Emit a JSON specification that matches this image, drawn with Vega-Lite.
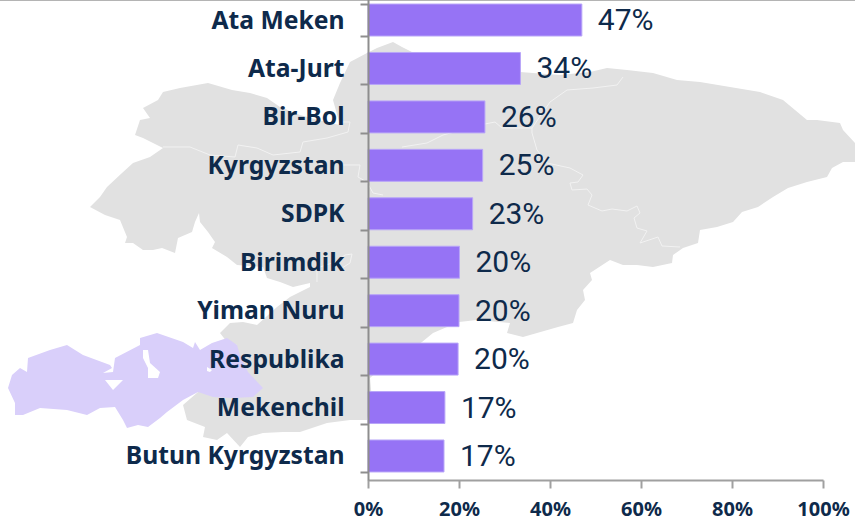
{"$schema":"https://vega.github.io/schema/vega-lite/v6.json","width":455,"height":480,"autosize":{"type":"none"},"padding":{"left":368,"top":0,"right":32,"bottom":40},"background":"#ffffff","config":{"view":{"stroke":null}},"layer":[{"data":{"values":[{"type":"Feature","properties":{"kind":"rest"},"geometry":{"type":"Polygon","coordinates":[[[69.90,42.93],[70.00,43.03],[70.07,43.13],[70.22,43.27],[70.33,43.37],[70.50,43.43],[70.63,43.52],[70.43,43.62],[70.35,43.65],[70.40,43.80],[70.50,43.82],[70.43,43.92],[70.58,44.00],[70.63,44.08],[70.80,44.12],[71.08,44.17],[71.32,44.10],[71.50,44.07],[71.67,44.02],[71.80,43.93],[72.00,43.85],[72.30,43.77],[72.40,43.75],[72.33,44.00],[72.40,44.17],[72.50,44.38],[72.67,44.47],[72.77,44.52],[72.93,44.58],[73.02,44.53],[73.12,44.48],[73.50,44.38],[74.20,44.28],[74.33,44.27],[74.60,44.25],[74.90,44.28],[75.07,44.32],[75.27,44.30],[75.53,44.27],[75.77,44.20],[76.00,44.18],[76.30,44.13],[76.60,44.08],[76.83,44.00],[77.07,43.80],[77.17,43.80],[77.40,43.77],[77.43,43.70],[77.55,43.57],[77.62,43.55],[77.62,43.40],[77.55,43.38],[77.43,43.38],[77.32,43.32],[77.27,43.23],[77.07,43.18],[76.88,43.12],[76.73,43.03],[76.58,42.93],[76.42,42.88],[76.33,42.78],[76.17,42.73],[76.00,42.70],[75.98,42.57],[75.83,42.52],[75.73,42.45],[75.72,42.37],[75.53,42.33],[75.37,42.35],[75.23,42.35],[75.10,42.40],[74.90,42.27],[74.92,42.20],[74.83,42.10],[74.85,42.00],[74.77,41.90],[74.73,41.77],[74.58,41.73],[74.23,41.63],[74.07,41.67],[74.10,41.77],[73.77,41.80],[73.59,41.78],[73.47,41.73],[73.33,41.67],[73.22,41.58],[73.10,41.50],[72.85,41.35],[72.70,41.22],[72.72,41.00],[72.67,40.80],[72.50,40.80],[72.27,40.77],[72.00,40.68],[71.83,40.68],[71.63,40.67],[71.48,40.63],[71.40,40.53],[71.27,40.67],[71.17,40.60],[71.03,40.63],[71.05,40.73],[70.87,40.80],[70.83,40.95],[70.98,41.08],[71.33,41.20],[71.37,41.55],[71.27,41.58],[71.20,41.67],[71.30,41.77],[71.43,41.78],[71.57,41.75],[71.77,41.93],[71.90,42.03],[72.10,42.13],[72.10,42.17],[71.93,42.13],[71.80,42.18],[71.67,42.22],[71.63,42.33],[71.37,42.35],[71.27,42.43],[71.12,42.52],[71.15,42.58],[71.08,42.68],[71.00,42.78],[70.99,42.87],[70.95,42.78],[70.92,42.68],[70.78,42.62],[70.75,42.47],[70.62,42.52],[70.53,42.50],[70.43,42.50],[70.33,42.57],[70.25,42.57],[70.27,42.63],[70.20,42.80],[70.05,42.85],[69.90,42.93]]]}},{"type":"Feature","properties":{"kind":"highlight"},"geometry":{"type":"Polygon","coordinates":[[[69.08,41.12],[69.12,41.25],[69.20,41.32],[69.27,41.28],[69.28,41.42],[69.50,41.50],[69.67,41.55],[69.83,41.45],[70.10,41.35],[70.12,41.32],[70.03,41.27],[70.13,41.28],[70.15,41.42],[70.40,41.55],[70.40,41.62],[70.57,41.67],[70.83,41.58],[70.93,41.52],[70.95,41.58],[71.00,41.50],[71.12,41.57],[71.27,41.62],[71.37,41.55],[71.40,41.45],[71.48,41.28],[71.63,41.12],[71.53,41.03],[71.33,41.02],[71.13,41.03],[70.98,41.08],[70.83,41.00],[70.67,40.88],[70.60,40.82],[70.48,40.73],[70.38,40.75],[70.27,40.72],[70.23,40.80],[70.15,40.93],[70.00,40.92],[69.87,40.85],[69.67,40.90],[69.40,40.92],[69.23,40.85],[69.15,40.85],[69.15,40.97],[69.08,41.12]],[[70.43,41.42],[70.48,41.32],[70.48,41.22],[70.58,41.22],[70.60,41.28],[70.50,41.37],[70.48,41.50],[70.43,41.50],[70.43,41.42]],[[70.13,41.10],[70.23,41.20],[70.05,41.20],[70.13,41.10]],[[71.07,41.29],[71.10,41.28],[71.12,41.30],[71.07,41.33],[71.07,41.29]]]}}]},"mark":{"type":"geoshape","stroke":null,"clip":false},"projection":{"type":"identity","scale":100,"translate":[-7268,4500],"reflectY":true},"encoding":{"color":{"field":"properties.kind","type":"nominal","scale":{"domain":["rest","highlight"],"range":["#e1e1e1","#d9cffa"]},"legend":null}}},{"data":{"values":[{"type":"Feature","properties":{"kind":"border"},"geometry":{"type":"MultiLineString","coordinates":[[[75.23,44.23],[75.17,44.15],[74.93,44.12],[74.67,44.10],[74.50,43.98],[74.32,43.72],[74.32,43.67],[74.37,43.50],[74.47,43.37],[74.70,43.32],[74.83,43.25],[74.78,43.18],[74.70,43.17],[74.72,43.10],[74.87,43.11],[74.92,43.05],[74.88,42.95],[75.02,42.89],[75.12,42.91],[75.27,42.89],[75.37,42.94],[75.40,42.87],[75.34,42.82],[75.37,42.72],[75.47,42.69],[75.40,42.57],[75.58,42.63],[75.62,42.54],[75.80,42.53]],[[74.32,43.72],[74.02,43.72],[73.95,43.78],[73.85,43.76],[73.43,43.65],[73.27,43.57],[73.02,43.53]],[[70.63,43.53],[70.90,43.53],[71.10,43.45],[71.35,43.43],[71.38,43.55],[71.57,43.52],[71.73,43.45],[72.00,43.48],[72.03,43.58],[72.27,43.62],[72.48,43.68],[72.50,43.78],[72.40,43.78]],[[72.40,43.35],[72.60,43.35],[72.58,43.23],[72.67,43.18],[72.73,43.07],[72.83,43.05]],[[72.17,42.18],[72.17,42.32],[72.35,42.38],[72.45,42.45],[72.52,42.46],[72.50,42.37],[72.42,42.32]]]}},{"type":"Feature","properties":{"kind":"frame"},"geometry":{"type":"LineString","coordinates":[[69.00,44.995],[77.55,44.995]]}}]},"mark":{"type":"geoshape","filled":false,"strokeWidth":1,"clip":false},"projection":{"type":"identity","scale":100,"translate":[-7268,4500],"reflectY":true},"encoding":{"stroke":{"field":"properties.kind","type":"nominal","scale":{"domain":["border","frame"],"range":["#f2f2f2","#b4b4b4"]},"legend":null}}},{"data":{"values":[{"party":"Ata Meken","share":0.47},{"party":"Ata-Jurt","share":0.335},{"party":"Bir-Bol","share":0.257},{"party":"Kyrgyzstan","share":0.252},{"party":"SDPK","share":0.23},{"party":"Birimdik","share":0.201},{"party":"Yiman Nuru","share":0.2},{"party":"Respublika","share":0.198},{"party":"Mekenchil","share":0.169},{"party":"Butun Kyrgyzstan","share":0.167}]},"encoding":{"y":{"field":"party","type":"nominal","sort":null,"title":null,"scale":{"range":[-4.2,480.2],"paddingInner":0.34,"paddingOuter":0.17},"axis":{"zindex":1,"tickBand":"extent","tickSize":8,"tickWidth":2,"tickColor":"#8e8e8e","domainColor":"#8e8e8e","domainWidth":2,"labelPadding":16,"labelLimit":340,"labelOffset":1,"labelFont":"Noto Sans","labelFontWeight":"bold","labelFontSize":24.7,"labelColor":"#0e2a4b"}},"x":{"field":"share","type":"quantitative","title":null,"scale":{"domain":[0,1],"nice":false},"axis":{"zindex":1,"values":[0,0.2,0.4,0.6,0.8,1],"format":".0%","grid":false,"tickSize":8,"tickWidth":2,"tickColor":"#a0a0a0","domainColor":"#a0a0a0","domainWidth":2,"labelPadding":11,"labelFont":"Noto Sans","labelFontWeight":"bold","labelFontSize":20,"labelColor":"#0e2a4b","labelFlush":false}}},"layer":[{"mark":{"type":"bar","fill":"#9673f5","stroke":"#b8a5f8","strokeWidth":1}},{"mark":{"type":"text","align":"left","dx":16,"dy":1,"font":"Roboto","fontSize":30,"fill":"#0e2a4b"},"encoding":{"text":{"field":"share","type":"quantitative","format":".0%"}}}]}]}
